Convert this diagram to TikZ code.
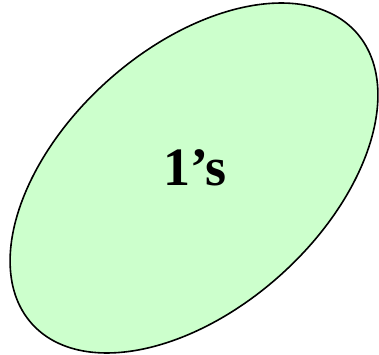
\documentclass[tikz,border=0pt]{standalone}
\usepackage{fontspec}
\setmainfont{Liberation Serif}
\usepackage{tikz}
\usetikzlibrary{shapes.geometric}
\definecolor{colOnes}{RGB}{204,255,204}

\begin{document}
\begin{tikzpicture}[
  x=1pt, y=1pt,
  blob/.style={ellipse, draw, line width=1.6pt, fill=colOnes,
               minimum width=436pt, minimum height=260pt, inner sep=0pt},
  lbl/.style={font=\fontsize{54}{60}\selectfont\bfseries},
]
\useasboundingbox (0,0) rectangle (379,354);

\node[blob, rotate=42] (ones) at (194,176) {};
\node[lbl] (onesLabel) at (195,186) {1’s};

\end{tikzpicture}
\end{document}
